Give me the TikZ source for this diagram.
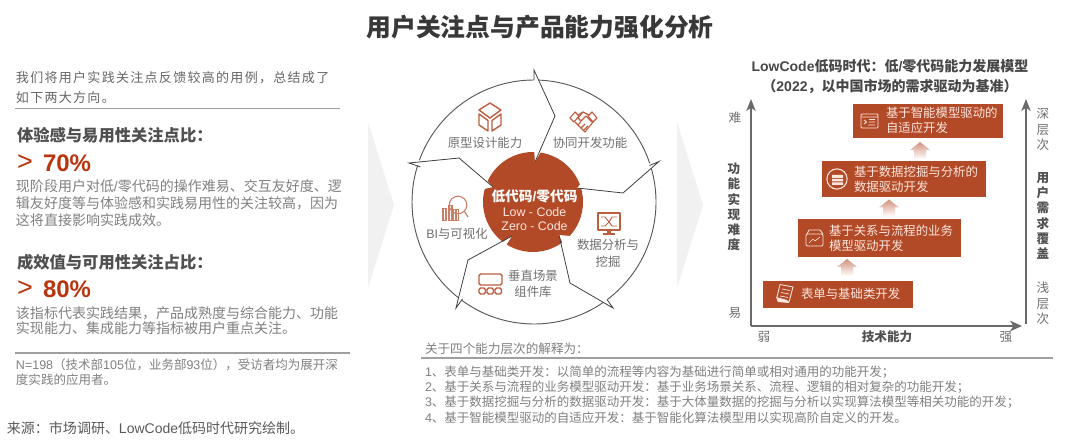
\documentclass[tikz,border=0pt]{standalone}
\usepackage{fontspec}
\usetikzlibrary{arrows.meta}
\setmainfont{Noto Sans CJK SC}
\newfontfamily\lafont{Liberation Sans}
\newcommand{\lat}[1]{{\lafont #1}}
\newfontfamily\cjkls[LetterSpace=10]{Noto Sans CJK SC}
\newcommand{\fsz}[2]{\fontsize{\dimexpr #1pt*3/4\relax}{\dimexpr #2pt*3/4\relax}\selectfont}
\definecolor{rust}{HTML}{B34A27}
\definecolor{pct}{HTML}{B8360F}
\definecolor{icon}{HTML}{BC5F40}
\definecolor{boxtxt}{HTML}{FBE6DE}
\definecolor{body}{HTML}{808080}
\definecolor{head}{HTML}{505050}
\definecolor{axis}{HTML}{6A6A6A}
\definecolor{chev}{HTML}{F1F1F1}
\definecolor{label}{HTML}{707070}
\tikzset{
  x=0.75pt,y=0.75pt,
  txt/.style={inner sep=0pt,outer sep=0pt,anchor=west,align=left},
  ctr/.style={inner sep=0pt,outer sep=0pt,anchor=center,align=center},
  bodytxt/.style={txt,text=body,font=\fsz{14}{17}},
  headtxt/.style={txt,text=head,font=\fsz{16.3}{18}\bfseries},
  bigpct/.style={txt,text=pct},
  notetxt/.style={txt,text=body,font=\fsz{12.5}{15}},
  circlabel/.style={ctr,text=label,font=\fsz{12.4}{16.5}},
  boxlabel/.style={txt,text=boxtxt,font=\fsz{12.4}{15}},
  axislabel/.style={ctr,text=label,font=\fsz{12.6}{15.3}},
  axisbold/.style={ctr,text=head,font=\fsz{12.6}{15.3}\bfseries},
  rust box/.style={fill=rust,draw=none},
  rulegray/.style={draw=gray!75,line width=0.9pt},
  blade/.style={draw=black!75,line width=0.6pt,line join=miter},
  ring/.style={draw=black!65,line width=0.7pt},
  iconline/.style={draw=icon,line width=0.85pt,line join=round,fill=none},
  wline/.style={draw=boxtxt,line width=0.65pt,line join=round,fill=none},
  axisline/.style={draw=axis,line width=1.15pt},
  uparrow/.style={top color=rust!60,bottom color=white,draw=none},
}
\begin{document}
\begin{tikzpicture}
\useasboundingbox[fill=white] (0,0) rectangle (1080,-441);
% title
\node[ctr,text=black!78,font=\fsz{24.8}{28}\bfseries] (title) at (540,-27) {用户关注点与产品能力强化分析};
% chevrons
\fill[chev] (368,-122) -- (394,-205) -- (368,-288) -- cycle;
\fill[chev] (677,-122) -- (703,-205) -- (677,-288) -- cycle;
% left column
\node[txt,text=black!60,font=\fsz{13}{20}\cjkls] (intro) at (16,-88) {我们将用户实践关注点反馈较高的用例，总结成了\\如下两大方向。};
\draw[rulegray] (15,-108.5) -- (340,-108.5);
\node[headtxt] (h1) at (17,-135) {体验感与易用性关注点比：};
\node[bigpct] (gt1) at (17,-163) {\fsz{27}{30}\lat{>}};
\node[bigpct] (p1) at (43,-163) {\fsz{24}{28}\lat{\bfseries 70\%}};
\node[bodytxt] (b1) at (16,-203) {现阶段用户对低\lat{/}零代码的操作难易、交互友好度、逻\\辑友好度等与体验感和实践易用性的关注较高，因为\\这将直接影响实践成效。};
\node[headtxt] (h2) at (17,-262) {成效值与可用性关注占比：};
\node[bigpct] (gt2) at (17,-289) {\fsz{27}{30}\lat{>}};
\node[bigpct] (p2) at (43,-289) {\fsz{24}{28}\lat{\bfseries 80\%}};
\node[bodytxt,font=\fsz{14}{15}] (b2) at (16,-320.5) {该指标代表实践结果，产品成熟度与综合能力、功能\\实现能力、集成能力等指标被用户重点关注。};
\draw[rulegray] (15,-353) -- (350,-353);
\node[notetxt,font=\fsz{12.5}{15}] (note) at (16,-372.5) {\lat{N=198}（技术部\lat{105}位，业务部\lat{93}位），受访者均为展开深\\度实践的应用者。};
\node[txt,text=black!65,font=\fsz{14}{16}] (src) at (7,-428) {来源：市场调研、\lat{LowCode}低码时代研究绘制。};
% pinwheel
\coordinate (cc) at (534,-202);
\fill[rust] (533,-202) circle [radius=37.5pt];
% wedges cut from the disc
\fill[white] (535,-162) -- (534,-149) -- (542,-150) -- cycle;
\fill[white] (577,-188) -- (583,-181) -- (585,-189.5) -- cycle;
\fill[white] (559,-235) -- (570,-236) -- (563.5,-245) -- cycle;
\fill[white] (512,-236) -- (505,-247) -- (501,-243) -- cycle;
\fill[white] (493,-187) -- (484,-189) -- (485,-179) -- cycle;
% ring arcs
\draw[ring] (cc) ++(87.8:91.5pt) arc (87.8:18.5:91.5pt);
\draw[ring] (cc) ++(16:91.5pt) arc (16:-53:91.5pt);
\draw[ring] (cc) ++(-55.5:91.5pt) arc (-55.5:-126.5:91.5pt);
\draw[ring] (cc) ++(-128:91.5pt) arc (-128:-197.5:91.5pt);
\draw[ring] (cc) ++(-200:91.5pt) arc (-200:-270:91.5pt);
% blades
\draw[blade] (534,-80) -- (534,-70) -- (555,-116) -- (535,-162);
\draw[blade] (649.5,-165.5) -- (659,-161.5) -- (623,-193) -- (577,-188);
\draw[blade] (607,-299.5) -- (613,-308) -- (570,-283) -- (559,-235);
\draw[blade] (462.5,-299) -- (456,-308) -- (468,-260) -- (512,-236);
\draw[blade] (420.5,-167) -- (409,-163) -- (459,-158) -- (493,-187);
% centre text
\node[ctr,text=white,font=\fsz{13.7}{16}\bfseries] (c1) at (534.5,-196) {低代码\lat{/}零代码};
\node[ctr,text=boxtxt,font=\fsz{12.4}{14}] (c2) at (534.5,-212) {\lat{Low - Code}};
\node[ctr,text=boxtxt,font=\fsz{12.4}{14}] (c3) at (534.5,-226) {\lat{Zero - Code}};
% ring labels
\node[circlabel] (l1) at (485,-143) {原型设计能力};
\node[circlabel] (l2) at (590,-143) {协同开发功能};
\node[circlabel] (l3) at (457,-234) {\lat{BI}与可视化};
\node[circlabel] (l4) at (608,-253.5) {数据分析与\\挖掘};
\node[circlabel] (l5) at (533,-284) {垂直场景\\组件库};
% cube icon
\draw[iconline,line width=1.05pt] (490,-103) -- (501,-110) -- (490,-118) -- (479,-110) -- cycle;
\draw[iconline,line width=1.05pt] (479,-114) -- (488,-120.5) -- (488,-131) -- (479,-125) -- cycle;
\draw[iconline,line width=1.05pt] (501,-114) -- (492,-120.5) -- (492,-131) -- (501,-125) -- cycle;
% handshake icon
\draw[iconline] (570,-118) -- (575,-112) -- (579,-116) -- (574,-122) -- cycle;
\draw[iconline] (597,-118) -- (592,-112) -- (588,-116) -- (593,-122) -- cycle;
\draw[iconline] (578,-115) -- (583,-112) -- (589,-115);
\draw[iconline] (575,-122) -- (585,-132) -- (593,-122);
\draw[iconline] (583,-112) -- (578,-118) -- (581,-121) -- (586,-116) -- (592,-122);
\draw[iconline] (578,-125) -- (581,-121.5) (581,-128) -- (585,-124) (584,-130) -- (588,-126);
% bars and magnifier icon
\foreach \xa/\ya in {442/208,448/205,453.5/209}{
  \draw[draw=icon!80,line width=0.7pt] (\xa,-220) rectangle (\xa+4.5,-\ya);
  \draw[draw=icon!80,line width=0.5pt] (\xa+1.5,-220) -- (\xa+1.5,-\ya) (\xa+3,-220) -- (\xa+3,-\ya);
}
\draw[draw=icon!80,line width=0.8pt] (458,-205) circle [radius=6.6pt];
\draw[draw=icon!80,line width=0.9pt] (464.5,-211.5) -- (468,-217);
% monitor icon
\draw[iconline,line width=1.1pt] (598,-213) rectangle (620,-230);
\draw[iconline,line width=0.7pt] (601,-217) -- (605,-217) -- (609,-222) -- (605,-226) -- (601,-226) (609,-222) -- (612,-217) -- (617,-217) (609,-222) -- (612,-226) -- (617,-226);
\fill[icon] (607,-230) rectangle (611,-233.5);
\fill[icon] (603,-233.5) rectangle (615,-235.5);
% widget icon
\draw[iconline,line width=1.1pt,rounded corners=1.2pt] (479,-274) rectangle (502,-285);
\foreach \xa in {479,487,495}{
  \draw[iconline,line width=1.05pt,rounded corners=1.2pt] (\xa,-288) rectangle (\xa+6.5,-294);
}
% chart header
\node[ctr,text=black!72,font=\fsz{14}{20}\bfseries] (ch) at (890,-76.5) {\lat{LowCode}低码时代：低\lat{/}零代码能力发展模型\\（\lat{2022}，以中国市场的需求驱动为基准）};
% axes
\coordinate (o) at (751,-326);
\coordinate (ytop) at (751,-99);
\coordinate (xend) at (1022,-326);
\coordinate (r0) at (1026,-324);
\coordinate (rtop) at (1026,-99);
\draw[axisline,-{Stealth[length=9pt,width=7pt,inset=2.5pt]}] (o) -- (ytop);
\draw[axisline,-{Stealth[length=9pt,width=8pt,inset=2.5pt]}] (o) -- (xend);
\draw[axisline,-{Stealth[length=9pt,width=7pt,inset=2.5pt]}] (r0) -- (rtop);
% boxes
\path[rust box] (853,-104) rectangle (1003,-138);
\path[rust box] (822,-161) rectangle (986,-197);
\path[rust box] (798,-219) rectangle (961,-257);
\path[rust box] (763,-281) rectangle (913,-308);
\node[boxlabel] (t4) at (886,-120.5) {基于智能模型驱动的\\自适应开发};
\node[boxlabel] (t3) at (854,-179) {基于数据挖掘与分析的\\数据驱动开发};
\node[boxlabel] (t2) at (829,-238.5) {基于关系与流程的业务\\模型驱动开发};
\node[boxlabel] (t1) at (801,-293.5) {表单与基础类开发};
% box icons
\draw[wline,rounded corners=0.8pt] (861,-114) rectangle (878,-128);
\draw[wline] (861,-117) -- (878,-117) (864,-120) -- (866.5,-122) -- (864,-124) (869,-122) -- (875,-122) (868,-125) -- (875,-125) (869,-119.5) -- (875,-119.5);
\draw[wline,line width=0.8pt] (837,-179) circle [radius=7.6pt];
\fill[boxtxt] (832,-175) rectangle (843,-178) (832,-179) rectangle (843,-181.5) (832,-182.5) rectangle (843,-185);
\draw[wline,rounded corners=1pt] (806,-234) rectangle (823,-246);
\draw[wline] (807,-234) -- (809,-230) -- (820,-230) -- (823,-234);
\draw[wline,line width=0.5pt] (809,-243) -- (813,-239) -- (815,-241) -- (820,-237);
\draw[wline,fill=none] (780,-284.5) -- (793,-287) -- (789,-302) -- (777,-300);
\draw[wline] (780,-284.5) -- (777,-297);
\fill[boxtxt] (776,-297) -- (787,-300) -- (789,-303) -- (778,-302) -- cycle;
\draw[wline,line width=0.5pt] (782,-289) -- (790,-290.5) (781,-292.5) -- (789,-294) (780,-296) -- (788,-297.5);
% up arrows
\foreach \cx/\tp in {920/142,889/199.5,847/259}{
  \shade[uparrow] (\cx,-\tp) -- (\cx+10,-\tp-8) -- (\cx+6,-\tp-8) -- (\cx+6,-\tp-17) -- (\cx-6,-\tp-17) -- (\cx-6,-\tp-8) -- (\cx-10,-\tp-8) -- cycle;
}
% axis labels
\node[axislabel] (a1) at (735,-118) {难};
\node[axislabel] (a2) at (735,-313) {易};
\node[axisbold] (a3) at (734,-207) {功\\能\\实\\现\\难\\度};
\node[axislabel] (a4) at (1043,-129.5) {深\\层\\次};
\node[axisbold] (a5) at (1043,-216) {用\\户\\需\\求\\覆\\盖};
\node[axislabel] (a6) at (1043,-303.5) {浅\\层\\次};
\node[axislabel] (a7) at (764,-337) {弱};
\node[axisbold] (a8) at (887,-337) {技术能力};
\node[axislabel] (a9) at (1006,-337) {强};
% bottom notes
\node[notetxt,font=\fsz{12.6}{15}] (n0) at (425,-349) {关于四个能力层次的解释为：};
\draw[rulegray] (421,-358) -- (1053,-358);
\node[notetxt] (n1) at (425,-372) {\lat{1}、表单与基础类开发：以简单的流程等内容为基础进行简单或相对通用的功能开发；};
\node[notetxt] (n2) at (425,-387) {\lat{2}、基于关系与流程的业务模型驱动开发：基于业务场景关系、流程、逻辑的相对复杂的功能开发；};
\node[notetxt] (n3) at (425,-402) {\lat{3}、基于数据挖掘与分析的数据驱动开发：基于大体量数据的挖掘与分析以实现算法模型等相关功能的开发；};
\node[notetxt] (n4) at (425,-418) {\lat{4}、基于智能模型驱动的自适应开发：基于智能化算法模型用以实现高阶自定义的开发。};
\end{tikzpicture}
\end{document}
